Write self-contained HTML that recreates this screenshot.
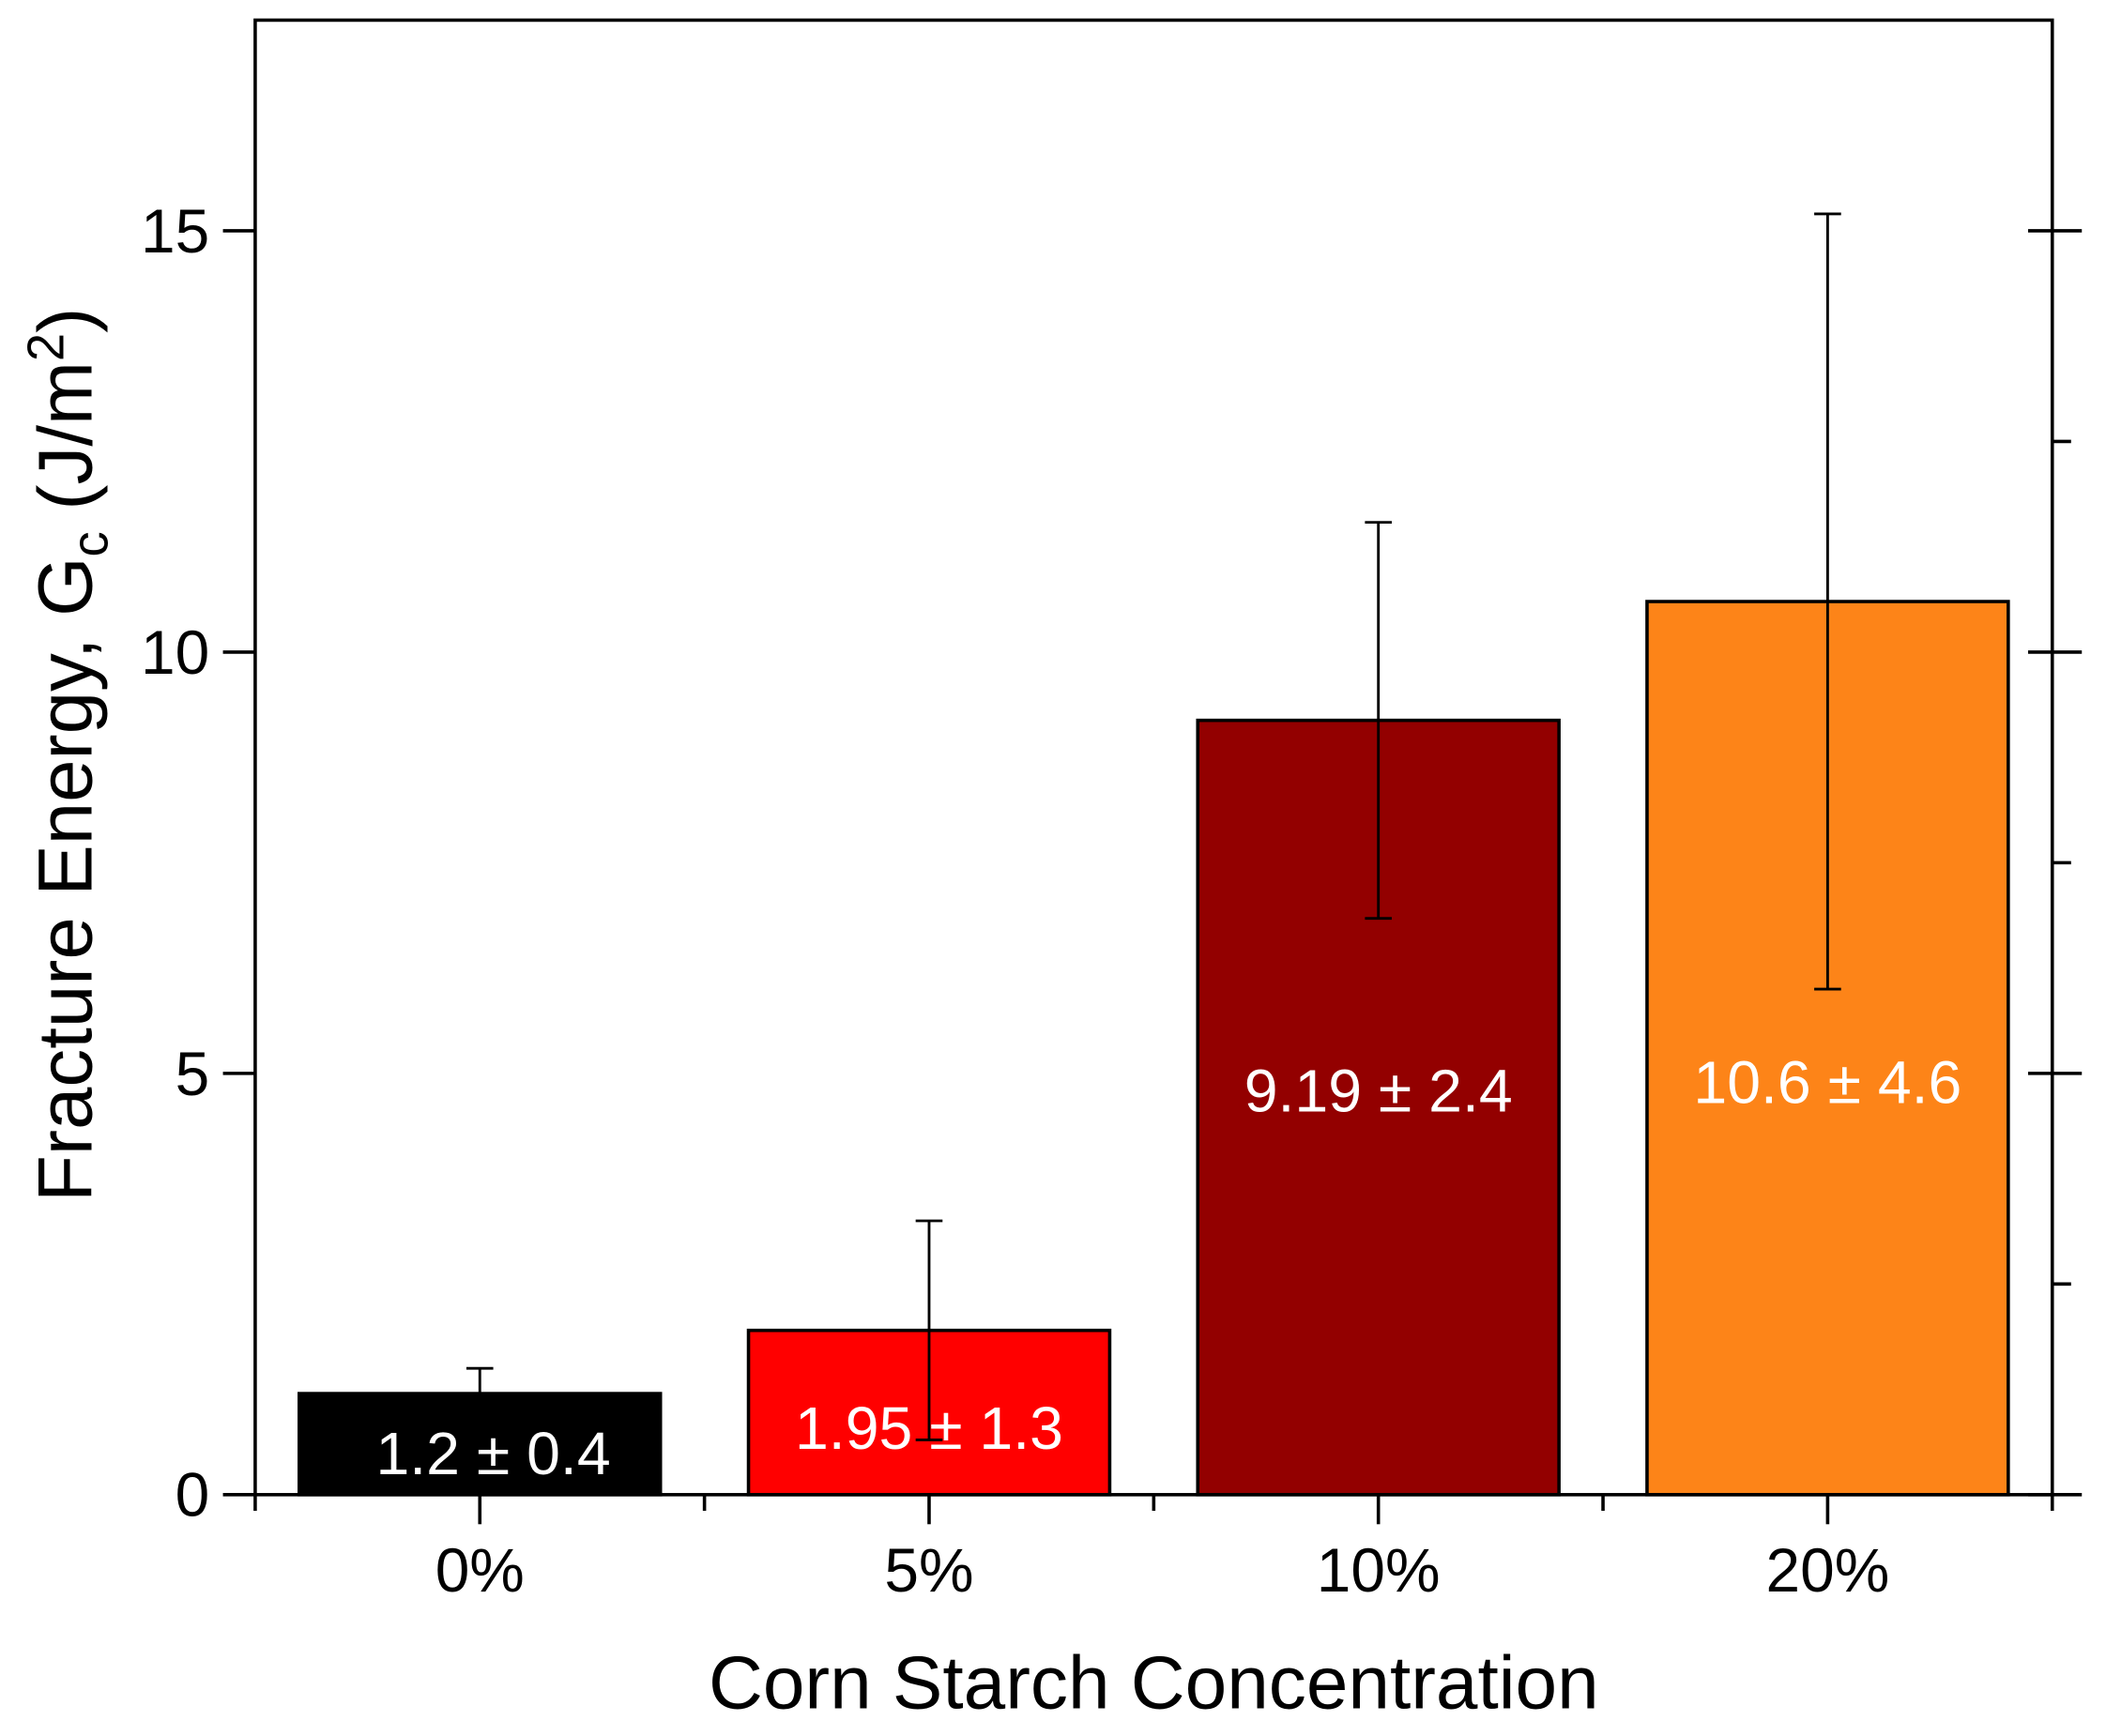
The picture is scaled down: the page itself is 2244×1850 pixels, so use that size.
<!DOCTYPE html>
<html><head><meta charset="utf-8"><style>
html,body{margin:0;padding:0;background:#fff;}
svg{display:block;font-family:"Liberation Sans",Arial,sans-serif;}
</style></head><body>
<svg id="chart" width="2244" height="1850" viewBox="0 0 1568 1292.7" preserveAspectRatio="none" xmlns="http://www.w3.org/2000/svg">
<g id="plot"></g>
</svg>
<script>
const categories = ["0%", "5%", "10%", "20%"];
const values = [1.2, 1.95, 9.19, 10.6];
const errors = [0.3, 1.3, 2.35, 4.6];
const labels = ["1.2 \u00b1  0.4", "1.95 \u00b1 1.3", "9.19 \u00b1 2.4", "10.6 \u00b1 4.6"];
const labelYValues = [0.5, 0.8, 4.8, 4.9];
const colors = ["#000000", "#ff0000", "#930000", "#fd8418"];
const yMajorTicks = [0, 5, 10, 15];
const yMinorTicks = [2.5, 7.5, 12.5];

const NS = "http://www.w3.org/2000/svg";
const g = document.getElementById("plot");
const L = 190, R = 1528, T = 15, B = 1113, YMAX = 17.5;
const band = (R - L) / categories.length;
function y(v){ return B - v / YMAX * (B - T); }
function xc(i){ return L + band * (i + 0.5); }
function mk(tag, attrs, text){
  const e = document.createElementNS(NS, tag);
  for (const k in attrs) e.setAttribute(k, attrs[k]);
  if (text !== undefined) e.textContent = text;
  g.appendChild(e);
  return e;
}
function line(x1,y1,x2,y2,w){ return mk("line",{x1,y1,x2,y2,stroke:"#000","stroke-width":w||2.5}); }

const bw = band * 0.804;
values.forEach((v, i) => {
  const r = mk("rect",{x:xc(i)-bw/2,y:y(v),width:bw,height:B-y(v),fill:colors[i],stroke:"#000","stroke-width":2.5});
  
  
});
values.forEach((v, i) => {
  const t = mk("text",{x:xc(i)+(i===0?10:0),y:y(labelYValues[i])+16,"text-anchor":"middle","font-size":45,fill:"#fff"}, labels[i]);
  
  
});
values.forEach((v, i) => {
  const hi = y(v + errors[i]), lo = y(v - errors[i]), x = xc(i);
  const eg = mk("g",{});
  
  
  [[x,hi,x,lo],[x-10,hi,x+10,hi],[x-10,lo,x+10,lo]].forEach(a=>{
    const l = document.createElementNS(NS,"line");
    l.setAttribute("x1",a[0]);l.setAttribute("y1",a[1]);l.setAttribute("x2",a[2]);l.setAttribute("y2",a[3]);
    l.setAttribute("stroke","#000");l.setAttribute("stroke-width",2);
    eg.appendChild(l);
  });
});
const fr = mk("rect",{x:L,y:T,width:R-L,height:B-T,fill:"none",stroke:"#000","stroke-width":2.5});


yMajorTicks.forEach(v => {
  line(L-24, y(v), L, y(v));
  line(R-18, y(v), R+22, y(v));
  const t = mk("text",{x:L-34,y:y(v)+16,"text-anchor":"end","font-size":46,fill:"#000"}, String(v));
  
  
});
yMinorTicks.forEach(v => { line(R, y(v), R+14, y(v)); });
categories.forEach((c, i) => {
  line(xc(i), B, xc(i), B+22);
  const t = mk("text",{x:xc(i),y:B+72,"text-anchor":"middle","font-size":46,fill:"#000"}, c);
  
  
});
for (let i = 0; i <= categories.length; i++) line(L + band*i, B, L + band*i, B+12);
const xt = mk("text",{x:(L+R)/2,y:1272,"text-anchor":"middle","font-size":56,fill:"#000"}, "Corn Starch Concentration");


const yt = mk("text",{x:0,y:0,"text-anchor":"middle","font-size":57,fill:"#000",transform:"translate(68,562) rotate(-90)"});


yt.innerHTML = 'Fracture Energy, G<tspan font-size="38" dy="12">c</tspan><tspan dy="-12"> (J/m</tspan><tspan font-size="38" dy="-21">2</tspan><tspan dy="21">)</tspan>';
</script>
</body></html>
